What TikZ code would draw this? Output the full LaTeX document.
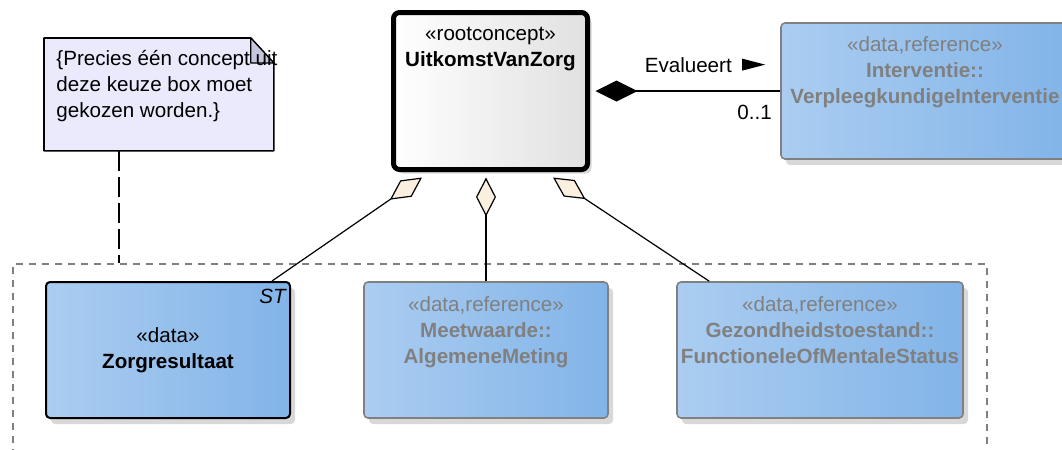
\documentclass[tikz,border=0pt]{standalone}
\usepackage{fontspec}
\setmainfont{Liberation Sans}
\usetikzlibrary{arrows.meta,calc,positioning,shadows}
\definecolor{blueL}{RGB}{171,205,241}
\definecolor{blueR}{RGB}{130,180,232}
\definecolor{refgray}{RGB}{128,128,128}
\definecolor{notefill}{RGB}{234,234,252}
\definecolor{foldfill}{RGB}{196,198,220}
\definecolor{aggrfill}{RGB}{251,240,224}
\definecolor{shadowgray}{RGB}{216,216,216}
\begin{document}
\begin{tikzpicture}[x=0.5pt,y=-0.5pt,line join=round,font=\fontsize{10.3}{13}\selectfont,
	blockbase/.style={rectangle,rounded corners=2pt,inner sep=0pt,left color=blueL,right color=blueR,
		drop shadow={shadow xshift=2.5pt,shadow yshift=-3pt,fill=shadowgray,opacity=1}},
	databox/.style={blockbase,draw=black,line width=1pt},
	refbox/.style={blockbase,draw=refgray,line width=0.8pt},
	reftext/.style={anchor=north,align=center,text=refgray,inner sep=0pt},
	aggr/.style={-{Diamond[length=19.5pt,width=10pt,fill=aggrfill]},line width=0.6pt},
	comp/.style={-{Diamond[length=21pt,width=10.5pt,fill=black]},line width=0.8pt}]
		\useasboundingbox (0,0) rectangle (1062,450);
		\fill[white] (0,0) rectangle (1062,450);
		\clip (0,0) rectangle (1062,450);
		\node[draw=refgray,dash pattern=on 3.5pt off 3pt,line width=0.8pt,minimum width=487pt,minimum height=110pt,inner sep=0pt,anchor=north west] (choice) at (12,263) {};
		\node[minimum width=114.5pt,minimum height=56pt,inner sep=0pt,anchor=north west] (note) at (44,38) {};
		\draw[fill=notefill,line width=0.8pt] (note.north west) -- ($(note.north east)+(-23,0)$) -- ($(note.north east)+(0,25)$) -- (note.south east) -- (note.south west) -- cycle;
		\draw[fill=foldfill,line width=0.6pt] ($(note.north east)+(-23,0)$) -- ($(note.north east)+(-23,25)$) -- ($(note.north east)+(0,25)$) -- cycle;
		\node[anchor=north west,align=left,inner sep=0pt] (notetxt) at ($(note.north west)+(12,12)$) {\{Precies één concept uit\\deze keuze box moet\\gekozen worden.\}};
		\coordinate (notefoot) at ($(note.south west)+(75,0)$);
		\draw[dash pattern=on 10pt off 3pt,line width=0.6pt] (notefoot) -- (notefoot |- choice.north);
		\node[draw=black,line width=2.5pt,rounded corners=3pt,left color=white,right color=black!12,minimum width=97pt,minimum height=78.5pt,inner sep=0pt,drop shadow={shadow xshift=2pt,shadow yshift=-2pt,fill=shadowgray,opacity=1}] (root) at (490.5,91) {};
		\node[anchor=north,align=center,inner sep=0pt] (roottxt) at ($(root.north)+(0,17)$) {«rootconcept»\\\textbf{UitkomstVanZorg}};
		\node[refbox,minimum width=144pt,minimum height=68pt] (interv) at (925,91) {};
		\node[reftext] (intervtxt) at ($(interv.north)+(0,14)$) {«data,reference»\\\textbf{Interventie::}\\\textbf{VerpleegkundigeInterventie}};
		\node[databox,minimum width=122pt,minimum height=68pt,align=center] (zorg) at (168,350) {«data»\\\textbf{Zorgresultaat}};
		\node[anchor=north east,inner sep=0pt,font=\fontsize{10.3}{13}\selectfont\itshape] (zorgst) at ($(zorg.north east)+(-5,8)$) {ST};
		\node[refbox,minimum width=122pt,minimum height=68pt] (meet) at (486,350) {};
		\node[reftext] (meettxt) at ($(meet.north)+(0,15)$) {«data,reference»\\\textbf{Meetwaarde::}\\\textbf{AlgemeneMeting}};
		\node[refbox,minimum width=143pt,minimum height=68pt] (gez) at (820,350) {};
		\node[reftext] (geztxt) at ($(gez.north)+(0,15)$) {«data,reference»\\\textbf{Gezondheidstoestand::}\\\textbf{FunctioneleOfMentaleStatus}};
		\draw[aggr] ($(zorg.north east)+(-19,0)$) -- ($(root.south)+(-68.5,5.5)$);
		\draw[aggr] (meet.north) -- ($(meet.north |- root.south)+(0,5.5)$);
		\draw[aggr] ($(gez.north west)+(33,0)$) -- ($(root.south)+(62.5,5.5)$);
		\draw[comp] (interv.west) -- ($(root.east)+(5.5,0)$);
		\node[anchor=base east,inner sep=0pt] (evallbl) at ($(interv.west)+(-48,-19)$) {Evalueert};
		\fill ($(evallbl.east)+(10,-6)$) -- ++(23,6) -- ++(-23,6) -- cycle;
		\node[anchor=base east,inner sep=0pt] (multlbl) at ($(interv.west)+(-8,28)$) {0..1};
\end{tikzpicture}
\end{document}
